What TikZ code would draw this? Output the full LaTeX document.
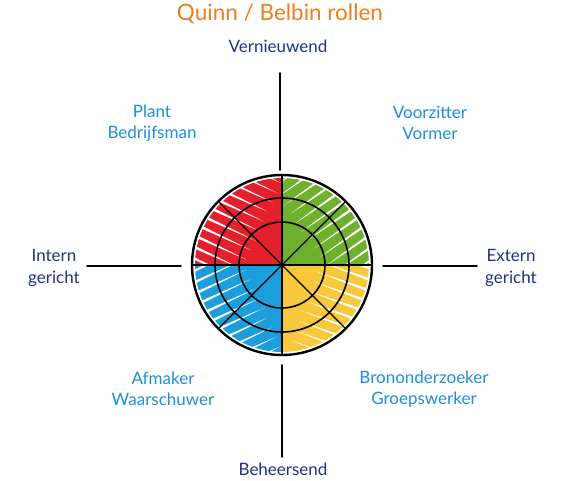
\documentclass[tikz,border=0pt]{standalone}
\usepackage{fontspec}
\usetikzlibrary{calc}
\setmainfont{Lato}
\definecolor{ttl}{HTML}{F07D1A}
\definecolor{axtxt}{HTML}{22308C}
\definecolor{roletxt}{HTML}{1B8FDC}
\definecolor{qred}{HTML}{E3202C}
\definecolor{qgreen}{HTML}{6FB02C}
\definecolor{qblue}{HTML}{1C9EDC}
\definecolor{qyellow}{HTML}{F8C83C}
\begin{document}
\begin{tikzpicture}[x=1pt,y=-1pt,
  axislabel/.style={text=axtxt,font=\fontsize{17}{22}\selectfont,align=center,inner sep=0pt},
  rolelabel/.style={text=roletxt,font=\fontsize{17}{21}\selectfont,align=center,inner sep=0pt},
  axisline/.style={line width=1.6pt,line cap=round,black},
  scrib/.style={line width=6.5pt,line join=round,line cap=round}]
\useasboundingbox (0,0) rectangle (573,480);
\coordinate (c) at (282,265);
% scribbles (y axis points down: 180-270 = top-left)
\foreach \ang/\col/\rot in {180/qred/-25, 270/qgreen/35, 90/qblue/25, 0/qyellow/-20}{
  \begin{scope}
    \clip (c) -- ++(\ang:87) arc[start angle=\ang, end angle=\ang+90, radius=87] -- cycle;
    \begin{scope}[shift={(c)},rotate=\rot]
      \draw[scrib,\col] (-110,-100) \foreach \i in {0,...,20}{ -- (110,-100+\i*10.5+5) -- (-110,-100+\i*10.5+10.5) };
    \end{scope}
  \end{scope}
}
% circle structure
\draw[line width=1.6pt] (c) circle[radius=43];
\draw[line width=1.6pt] (c) circle[radius=67];
\draw[line width=1.3pt] (c) -- ++(45:90) (c) -- ++(135:90) (c) -- ++(225:90) (c) -- ++(315:90);
\draw[line width=1.8pt] ($(c)+(-90,0)$) -- ($(c)+(90,0)$);
\draw[line width=1.8pt] ($(c)+(0,-90)$) -- ($(c)+(0,90)$);
\draw[line width=2.4pt] (c) circle[radius=90];
% axes
\coordinate (t1) at (280,73); \coordinate (t2) at (280,170);
\coordinate (b1) at (282,365); \coordinate (b2) at (282,457);
\coordinate (l1) at (87,266); \coordinate (l2) at (181,266);
\coordinate (r1) at (383,266); \coordinate (r2) at (477,266);
\draw[axisline] (t1) -- (t2);
\draw[axisline] (b1) -- (b2);
\draw[axisline] (l1) -- (l2);
\draw[axisline] (r1) -- (r2);
% texts
\node[text=ttl,font=\fontsize{22.5}{24}\selectfont,inner sep=0pt] (title) at (280,14) {Quinn / Belbin rollen};
\node[axislabel] (top) at (278,46) {Vernieuwend};
\node[axislabel] (bot) at (283,469) {Beheersend};
\node[axislabel] (left) at (54,268) {Intern\\gericht};
\node[axislabel] (right) at (511,268) {Extern\\gericht};
\node[rolelabel] (tl) at (152,123) {Plant\\Bedrijfsman};
\node[rolelabel] (tr) at (430,123) {Voorzitter\\Vormer};
\node[rolelabel] (bl) at (163,389) {Afmaker\\Waarschuwer};
\node[rolelabel] (br) at (424,389) {Brononderzoeker\\Groepswerker};
\end{tikzpicture}
\end{document}
